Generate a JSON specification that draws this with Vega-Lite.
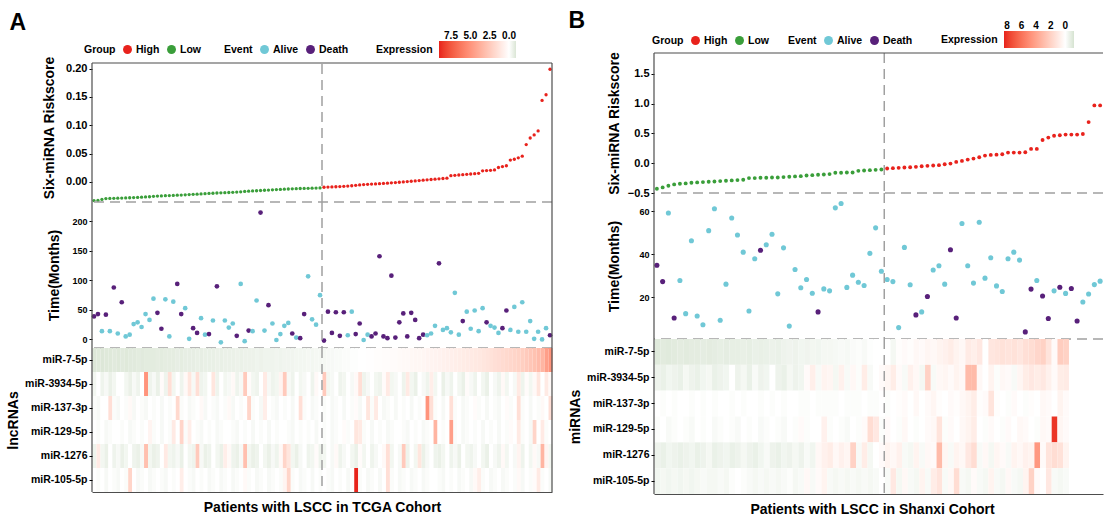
{
"$schema":"https://vega.github.io/schema/vega-lite/v6.json",
"background":"white",
"padding":{"left":6,"top":10,"right":0,"bottom":0},
"config":{"font":"Liberation Sans","view":{"stroke":null},
"axis":{"labelFont":"Liberation Sans","labelFontWeight":"bold","labelColor":"#000","titleFont":"Liberation Sans","titleFontWeight":"bold","titleColor":"#000","tickColor":"#000","tickSize":3,"grid":false,"domain":false,"titleFontSize":14,"titlePadding":4,"labelOverlap":false},
"legend":{"labelFont":"Liberation Sans","titleFont":"Liberation Sans","labelFontWeight":"bold","titleFontWeight":"bold","labelColor":"#000","titleColor":"#000","labelFontSize":10.5,"titleFontSize":10.5},
"title":{"font":"Liberation Sans","fontWeight":"bold","fontSize":23,"anchor":"start","color":"#000"}},
"datasets":{
"A":[
{"i":1,"risk":-0.0330,"group":"Low","time":39,"status":"Death","miR-7-5p":-0.85,"miR-3934-5p":-0.3,"miR-137-3p":-0.1,"miR-129-5p":0,"miR-1276":-0.4,"miR-105-5p":0},
{"i":2,"risk":-0.0328,"group":"Low","time":43,"status":"Death","miR-7-5p":-0.8,"miR-3934-5p":0,"miR-137-3p":-0.2,"miR-129-5p":-0.1,"miR-1276":1.0,"miR-105-5p":-0.1},
{"i":3,"risk":-0.0310,"group":"Low","time":14,"status":"Alive","miR-7-5p":-0.85,"miR-3934-5p":-0.4,"miR-137-3p":0,"miR-129-5p":0,"miR-1276":-0.3,"miR-105-5p":0},
{"i":4,"risk":-0.0295,"group":"Low","time":42,"status":"Death","miR-7-5p":-0.8,"miR-3934-5p":-0.2,"miR-137-3p":0,"miR-129-5p":-0.2,"miR-1276":-0.5,"miR-105-5p":-0.2},
{"i":5,"risk":-0.0292,"group":"Low","time":14,"status":"Alive","miR-7-5p":-0.8,"miR-3934-5p":-0.5,"miR-137-3p":1.5,"miR-129-5p":-0.1,"miR-1276":0,"miR-105-5p":0},
{"i":6,"risk":-0.0290,"group":"Low","time":88,"status":"Death","miR-7-5p":-0.75,"miR-3934-5p":-0.3,"miR-137-3p":-0.1,"miR-129-5p":0,"miR-1276":-0.4,"miR-105-5p":-0.1},
{"i":7,"risk":-0.0288,"group":"Low","time":10,"status":"Alive","miR-7-5p":-0.8,"miR-3934-5p":0,"miR-137-3p":-0.2,"miR-129-5p":0,"miR-1276":-0.2,"miR-105-5p":-0.2},
{"i":8,"risk":-0.0286,"group":"Low","time":63,"status":"Death","miR-7-5p":-0.75,"miR-3934-5p":0,"miR-137-3p":0,"miR-129-5p":-0.1,"miR-1276":-0.5,"miR-105-5p":0},
{"i":9,"risk":-0.0283,"group":"Low","time":5,"status":"Alive","miR-7-5p":-0.8,"miR-3934-5p":-0.3,"miR-137-3p":-0.1,"miR-129-5p":0,"miR-1276":-0.3,"miR-105-5p":-0.1},
{"i":10,"risk":-0.0280,"group":"Low","time":8,"status":"Alive","miR-7-5p":-0.75,"miR-3934-5p":-0.5,"miR-137-3p":0.3,"miR-129-5p":-0.2,"miR-1276":0,"miR-105-5p":2.0},
{"i":11,"risk":-0.0277,"group":"Low","time":26,"status":"Alive","miR-7-5p":-0.75,"miR-3934-5p":-0.2,"miR-137-3p":-0.2,"miR-129-5p":-0.1,"miR-1276":-0.4,"miR-105-5p":0},
{"i":12,"risk":-0.0274,"group":"Low","time":29,"status":"Alive","miR-7-5p":-0.7,"miR-3934-5p":-0.4,"miR-137-3p":0,"miR-129-5p":0,"miR-1276":-0.5,"miR-105-5p":-0.2},
{"i":13,"risk":-0.0270,"group":"Low","time":21,"status":"Alive","miR-7-5p":-0.75,"miR-3934-5p":0,"miR-137-3p":-0.1,"miR-129-5p":-0.1,"miR-1276":-0.2,"miR-105-5p":-0.1},
{"i":14,"risk":-0.0266,"group":"Low","time":43,"status":"Alive","miR-7-5p":-0.7,"miR-3934-5p":5.0,"miR-137-3p":-0.2,"miR-129-5p":0,"miR-1276":3.0,"miR-105-5p":0},
{"i":15,"risk":-0.0262,"group":"Low","time":33,"status":"Alive","miR-7-5p":-0.7,"miR-3934-5p":-0.4,"miR-137-3p":0,"miR-129-5p":0.5,"miR-1276":-0.3,"miR-105-5p":-0.2},
{"i":16,"risk":-0.0255,"group":"Low","time":69,"status":"Alive","miR-7-5p":-0.7,"miR-3934-5p":-0.2,"miR-137-3p":-0.1,"miR-129-5p":-0.1,"miR-1276":-0.5,"miR-105-5p":-0.1},
{"i":17,"risk":-0.0250,"group":"Low","time":45,"status":"Death","miR-7-5p":-0.65,"miR-3934-5p":-0.5,"miR-137-3p":0,"miR-129-5p":0,"miR-1276":-0.4,"miR-105-5p":0},
{"i":18,"risk":-0.0247,"group":"Low","time":18,"status":"Death","miR-7-5p":-0.7,"miR-3934-5p":0.2,"miR-137-3p":-0.2,"miR-129-5p":-0.2,"miR-1276":0,"miR-105-5p":-0.1},
{"i":19,"risk":-0.0244,"group":"Low","time":68,"status":"Alive","miR-7-5p":-0.65,"miR-3934-5p":-0.4,"miR-137-3p":0,"miR-129-5p":0,"miR-1276":1.0,"miR-105-5p":-0.2},
{"i":20,"risk":-0.0241,"group":"Low","time":5,"status":"Alive","miR-7-5p":-0.65,"miR-3934-5p":1.5,"miR-137-3p":-0.1,"miR-129-5p":-0.1,"miR-1276":-0.3,"miR-105-5p":0},
{"i":21,"risk":-0.0238,"group":"Low","time":64,"status":"Alive","miR-7-5p":-0.65,"miR-3934-5p":-0.3,"miR-137-3p":0,"miR-129-5p":1.0,"miR-1276":-0.4,"miR-105-5p":-0.1},
{"i":22,"risk":-0.0235,"group":"Low","time":94,"status":"Death","miR-7-5p":-0.6,"miR-3934-5p":0,"miR-137-3p":1.8,"miR-129-5p":0,"miR-1276":-0.2,"miR-105-5p":0},
{"i":23,"risk":-0.0232,"group":"Low","time":43,"status":"Death","miR-7-5p":-0.65,"miR-3934-5p":-0.4,"miR-137-3p":-0.1,"miR-129-5p":2.0,"miR-1276":-0.5,"miR-105-5p":0.8},
{"i":24,"risk":-0.0228,"group":"Low","time":53,"status":"Alive","miR-7-5p":-0.6,"miR-3934-5p":0.3,"miR-137-3p":0,"miR-129-5p":-0.1,"miR-1276":0,"miR-105-5p":0},
{"i":25,"risk":-0.0224,"group":"Low","time":1,"status":"Alive","miR-7-5p":-0.6,"miR-3934-5p":1.2,"miR-137-3p":-0.2,"miR-129-5p":0.8,"miR-1276":-0.3,"miR-105-5p":-0.1},
{"i":26,"risk":-0.0220,"group":"Low","time":19,"status":"Death","miR-7-5p":-0.6,"miR-3934-5p":-0.2,"miR-137-3p":-0.1,"miR-129-5p":0,"miR-1276":-0.4,"miR-105-5p":-0.2},
{"i":27,"risk":-0.0216,"group":"Low","time":11,"status":"Death","miR-7-5p":-0.55,"miR-3934-5p":1.5,"miR-137-3p":0,"miR-129-5p":-0.1,"miR-1276":2.5,"miR-105-5p":0},
{"i":28,"risk":-0.0212,"group":"Low","time":36,"status":"Alive","miR-7-5p":-0.6,"miR-3934-5p":-0.4,"miR-137-3p":0.3,"miR-129-5p":-0.2,"miR-1276":-0.2,"miR-105-5p":-0.1},
{"i":29,"risk":-0.0208,"group":"Low","time":8,"status":"Alive","miR-7-5p":-0.55,"miR-3934-5p":-0.3,"miR-137-3p":-0.2,"miR-129-5p":0,"miR-1276":-0.5,"miR-105-5p":0},
{"i":30,"risk":-0.0204,"group":"Low","time":9,"status":"Death","miR-7-5p":-0.55,"miR-3934-5p":0,"miR-137-3p":0,"miR-129-5p":-0.1,"miR-1276":-0.4,"miR-105-5p":-0.2},
{"i":31,"risk":-0.0200,"group":"Low","time":32,"status":"Alive","miR-7-5p":-0.55,"miR-3934-5p":1.2,"miR-137-3p":-0.1,"miR-129-5p":0,"miR-1276":0,"miR-105-5p":-0.1},
{"i":32,"risk":-0.0196,"group":"Low","time":90,"status":"Death","miR-7-5p":-0.5,"miR-3934-5p":-0.4,"miR-137-3p":-0.2,"miR-129-5p":-0.2,"miR-1276":-0.3,"miR-105-5p":0},
{"i":33,"risk":-0.0193,"group":"Low","time":-5,"status":"Alive","miR-7-5p":-0.55,"miR-3934-5p":0,"miR-137-3p":0,"miR-129-5p":-0.1,"miR-1276":-0.5,"miR-105-5p":-0.2},
{"i":34,"risk":-0.0190,"group":"Low","time":32,"status":"Alive","miR-7-5p":-0.5,"miR-3934-5p":-0.3,"miR-137-3p":-0.1,"miR-129-5p":0,"miR-1276":0.8,"miR-105-5p":-0.1},
{"i":35,"risk":-0.0187,"group":"Low","time":20,"status":"Alive","miR-7-5p":-0.5,"miR-3934-5p":-0.2,"miR-137-3p":0.3,"miR-129-5p":0,"miR-1276":0.3,"miR-105-5p":0},
{"i":36,"risk":-0.0184,"group":"Low","time":27,"status":"Alive","miR-7-5p":-0.5,"miR-3934-5p":0.3,"miR-137-3p":-0.2,"miR-129-5p":-0.1,"miR-1276":-0.4,"miR-105-5p":-0.2},
{"i":37,"risk":-0.0180,"group":"Low","time":6,"status":"Death","miR-7-5p":-0.45,"miR-3934-5p":-0.4,"miR-137-3p":0,"miR-129-5p":-0.2,"miR-1276":-0.5,"miR-105-5p":-0.1},
{"i":38,"risk":-0.0175,"group":"Low","time":94,"status":"Alive","miR-7-5p":-0.5,"miR-3934-5p":-0.2,"miR-137-3p":-0.1,"miR-129-5p":0,"miR-1276":-0.2,"miR-105-5p":0},
{"i":39,"risk":-0.0168,"group":"Low","time":-3,"status":"Alive","miR-7-5p":-0.45,"miR-3934-5p":2.5,"miR-137-3p":0,"miR-129-5p":-0.1,"miR-1276":3.0,"miR-105-5p":0.3},
{"i":40,"risk":-0.0164,"group":"Low","time":15,"status":"Death","miR-7-5p":-0.45,"miR-3934-5p":0.2,"miR-137-3p":2.0,"miR-129-5p":0,"miR-1276":-0.3,"miR-105-5p":-0.1},
{"i":41,"risk":-0.0160,"group":"Low","time":14,"status":"Alive","miR-7-5p":-0.45,"miR-3934-5p":-0.3,"miR-137-3p":-0.1,"miR-129-5p":-0.2,"miR-1276":-0.5,"miR-105-5p":0},
{"i":42,"risk":-0.0156,"group":"Low","time":66,"status":"Alive","miR-7-5p":-0.4,"miR-3934-5p":-0.4,"miR-137-3p":0,"miR-129-5p":0,"miR-1276":-0.4,"miR-105-5p":-0.2},
{"i":43,"risk":-0.0152,"group":"Low","time":215,"status":"Death","miR-7-5p":-0.45,"miR-3934-5p":0,"miR-137-3p":-0.2,"miR-129-5p":-0.1,"miR-1276":0,"miR-105-5p":-0.1},
{"i":44,"risk":-0.0148,"group":"Low","time":15,"status":"Alive","miR-7-5p":-0.4,"miR-3934-5p":1.0,"miR-137-3p":0.8,"miR-129-5p":0,"miR-1276":-0.3,"miR-105-5p":0},
{"i":45,"risk":-0.0144,"group":"Low","time":58,"status":"Death","miR-7-5p":-0.4,"miR-3934-5p":-0.2,"miR-137-3p":0,"miR-129-5p":-0.2,"miR-1276":-0.5,"miR-105-5p":-0.2},
{"i":46,"risk":-0.0140,"group":"Low","time":27,"status":"Alive","miR-7-5p":-0.4,"miR-3934-5p":-0.4,"miR-137-3p":-0.1,"miR-129-5p":0,"miR-1276":-0.2,"miR-105-5p":-0.1},
{"i":47,"risk":-0.0136,"group":"Low","time":-1,"status":"Alive","miR-7-5p":-0.35,"miR-3934-5p":-0.3,"miR-137-3p":-0.2,"miR-129-5p":-0.1,"miR-1276":-0.4,"miR-105-5p":0},
{"i":48,"risk":-0.0132,"group":"Low","time":9,"status":"Alive","miR-7-5p":-0.4,"miR-3934-5p":0.5,"miR-137-3p":0,"miR-129-5p":0,"miR-1276":0.3,"miR-105-5p":-0.1},
{"i":49,"risk":-0.0128,"group":"Low","time":23,"status":"Alive","miR-7-5p":-0.35,"miR-3934-5p":2.5,"miR-137-3p":-0.1,"miR-129-5p":0,"miR-1276":2.0,"miR-105-5p":0.5},
{"i":50,"risk":-0.0125,"group":"Low","time":28,"status":"Alive","miR-7-5p":-0.35,"miR-3934-5p":-0.2,"miR-137-3p":0,"miR-129-5p":-0.1,"miR-1276":1.2,"miR-105-5p":2.0},
{"i":51,"risk":-0.0122,"group":"Low","time":10,"status":"Death","miR-7-5p":-0.35,"miR-3934-5p":-0.4,"miR-137-3p":-0.2,"miR-129-5p":-0.2,"miR-1276":-0.3,"miR-105-5p":-0.1},
{"i":52,"risk":-0.0119,"group":"Low","time":3,"status":"Alive","miR-7-5p":-0.3,"miR-3934-5p":0,"miR-137-3p":0,"miR-129-5p":0,"miR-1276":-0.5,"miR-105-5p":0},
{"i":53,"risk":-0.0117,"group":"Low","time":2,"status":"Death","miR-7-5p":-0.3,"miR-3934-5p":-0.3,"miR-137-3p":1.5,"miR-129-5p":-0.1,"miR-1276":-0.2,"miR-105-5p":-0.2},
{"i":54,"risk":-0.0115,"group":"Low","time":43,"status":"Death","miR-7-5p":-0.3,"miR-3934-5p":-0.2,"miR-137-3p":-0.1,"miR-129-5p":0,"miR-1276":0,"miR-105-5p":-0.1},
{"i":55,"risk":-0.0113,"group":"Low","time":107,"status":"Alive","miR-7-5p":-0.25,"miR-3934-5p":0,"miR-137-3p":0,"miR-129-5p":-0.1,"miR-1276":-0.4,"miR-105-5p":0},
{"i":56,"risk":-0.0111,"group":"Low","time":34,"status":"Alive","miR-7-5p":-0.3,"miR-3934-5p":-0.4,"miR-137-3p":-0.2,"miR-129-5p":0,"miR-1276":-0.3,"miR-105-5p":-0.2},
{"i":57,"risk":-0.0109,"group":"Low","time":25,"status":"Alive","miR-7-5p":-0.25,"miR-3934-5p":0.3,"miR-137-3p":-0.1,"miR-129-5p":-0.2,"miR-1276":0.2,"miR-105-5p":0},
{"i":58,"risk":-0.0107,"group":"Low","time":75,"status":"Alive","miR-7-5p":-0.25,"miR-3934-5p":0,"miR-137-3p":0,"miR-129-5p":0,"miR-1276":-0.4,"miR-105-5p":-0.1},
{"i":59,"risk":-0.0095,"group":"High","time":-2,"status":"Death","miR-7-5p":-0.25,"miR-3934-5p":2.5,"miR-137-3p":-0.1,"miR-129-5p":-0.1,"miR-1276":-0.3,"miR-105-5p":0},
{"i":60,"risk":-0.0092,"group":"High","time":47,"status":"Death","miR-7-5p":-0.2,"miR-3934-5p":-0.3,"miR-137-3p":0,"miR-129-5p":0,"miR-1276":0,"miR-105-5p":-0.1},
{"i":61,"risk":-0.0089,"group":"High","time":11,"status":"Death","miR-7-5p":-0.2,"miR-3934-5p":-0.2,"miR-137-3p":-0.2,"miR-129-5p":-0.2,"miR-1276":-0.2,"miR-105-5p":-0.2},
{"i":62,"risk":-0.0086,"group":"High","time":46,"status":"Death","miR-7-5p":-0.15,"miR-3934-5p":0,"miR-137-3p":-0.1,"miR-129-5p":-0.1,"miR-1276":0.3,"miR-105-5p":0},
{"i":63,"risk":-0.0082,"group":"High","time":6,"status":"Death","miR-7-5p":-0.15,"miR-3934-5p":-0.4,"miR-137-3p":0,"miR-129-5p":0,"miR-1276":-0.4,"miR-105-5p":-0.1},
{"i":64,"risk":-0.0078,"group":"High","time":46,"status":"Death","miR-7-5p":-0.1,"miR-3934-5p":-0.3,"miR-137-3p":-0.2,"miR-129-5p":0.2,"miR-1276":-0.2,"miR-105-5p":0},
{"i":65,"risk":-0.0074,"group":"High","time":7,"status":"Alive","miR-7-5p":-0.1,"miR-3934-5p":0,"miR-137-3p":0,"miR-129-5p":-0.1,"miR-1276":0,"miR-105-5p":-0.2},
{"i":66,"risk":-0.0068,"group":"High","time":47,"status":"Alive","miR-7-5p":-0.05,"miR-3934-5p":-0.2,"miR-137-3p":-0.1,"miR-129-5p":0,"miR-1276":-0.3,"miR-105-5p":0},
{"i":67,"risk":-0.0060,"group":"High","time":9,"status":"Death","miR-7-5p":-0.05,"miR-3934-5p":0.3,"miR-137-3p":0.2,"miR-129-5p":1.2,"miR-1276":-0.5,"miR-105-5p":9.0},
{"i":68,"risk":-0.0053,"group":"High","time":27,"status":"Death","miR-7-5p":0,"miR-3934-5p":1.5,"miR-137-3p":-0.2,"miR-129-5p":1.0,"miR-1276":0.2,"miR-105-5p":-0.1},
{"i":69,"risk":-0.0047,"group":"High","time":-1,"status":"Alive","miR-7-5p":0,"miR-3934-5p":-0.4,"miR-137-3p":0,"miR-129-5p":-0.1,"miR-1276":-0.3,"miR-105-5p":0},
{"i":70,"risk":-0.0043,"group":"High","time":8,"status":"Alive","miR-7-5p":0.05,"miR-3934-5p":-0.2,"miR-137-3p":1.2,"miR-129-5p":0,"miR-1276":0,"miR-105-5p":-0.2},
{"i":71,"risk":-0.0039,"group":"High","time":5,"status":"Death","miR-7-5p":0.05,"miR-3934-5p":0,"miR-137-3p":-0.1,"miR-129-5p":-0.2,"miR-1276":-0.4,"miR-105-5p":-0.1},
{"i":72,"risk":-0.0035,"group":"High","time":10,"status":"Death","miR-7-5p":0.1,"miR-3934-5p":-0.3,"miR-137-3p":1.0,"miR-129-5p":0,"miR-1276":-0.2,"miR-105-5p":0},
{"i":73,"risk":-0.0031,"group":"High","time":141,"status":"Death","miR-7-5p":0.1,"miR-3934-5p":-0.4,"miR-137-3p":0,"miR-129-5p":-0.1,"miR-1276":0,"miR-105-5p":-0.2},
{"i":74,"risk":-0.0027,"group":"High","time":5,"status":"Death","miR-7-5p":0.15,"miR-3934-5p":0.2,"miR-137-3p":-0.2,"miR-129-5p":0,"miR-1276":0.3,"miR-105-5p":0},
{"i":75,"risk":-0.0022,"group":"High","time":2,"status":"Death","miR-7-5p":0.15,"miR-3934-5p":1.0,"miR-137-3p":-0.1,"miR-129-5p":-0.2,"miR-1276":1.5,"miR-105-5p":1.5},
{"i":76,"risk":-0.0017,"group":"High","time":108,"status":"Death","miR-7-5p":0.2,"miR-3934-5p":-0.3,"miR-137-3p":0,"miR-129-5p":-0.1,"miR-1276":-0.3,"miR-105-5p":-0.1},
{"i":77,"risk":-0.0012,"group":"High","time":3,"status":"Death","miR-7-5p":0.2,"miR-3934-5p":-0.2,"miR-137-3p":-0.2,"miR-129-5p":0,"miR-1276":0,"miR-105-5p":0},
{"i":78,"risk":-0.0006,"group":"High","time":29,"status":"Death","miR-7-5p":0.25,"miR-3934-5p":0,"miR-137-3p":0,"miR-129-5p":0,"miR-1276":-0.2,"miR-105-5p":-0.2},
{"i":79,"risk":0.0000,"group":"High","time":44,"status":"Death","miR-7-5p":0.3,"miR-3934-5p":-0.4,"miR-137-3p":-0.1,"miR-129-5p":-0.1,"miR-1276":2.5,"miR-105-5p":-0.1},
{"i":80,"risk":0.0006,"group":"High","time":5,"status":"Death","miR-7-5p":0.3,"miR-3934-5p":1.0,"miR-137-3p":0,"miR-129-5p":-0.2,"miR-1276":-0.4,"miR-105-5p":0},
{"i":81,"risk":0.0012,"group":"High","time":45,"status":"Death","miR-7-5p":0.35,"miR-3934-5p":-0.3,"miR-137-3p":-0.2,"miR-129-5p":0,"miR-1276":0,"miR-105-5p":-0.2},
{"i":82,"risk":0.0018,"group":"High","time":33,"status":"Death","miR-7-5p":0.4,"miR-3934-5p":-0.5,"miR-137-3p":0,"miR-129-5p":-0.1,"miR-1276":-0.3,"miR-105-5p":-0.1},
{"i":83,"risk":0.0024,"group":"High","time":2,"status":"Death","miR-7-5p":0.4,"miR-3934-5p":0,"miR-137-3p":-0.1,"miR-129-5p":0,"miR-1276":1.2,"miR-105-5p":0},
{"i":84,"risk":0.0030,"group":"High","time":8,"status":"Death","miR-7-5p":0.45,"miR-3934-5p":-0.2,"miR-137-3p":0,"miR-129-5p":-0.2,"miR-1276":-0.5,"miR-105-5p":-0.2},
{"i":85,"risk":0.0036,"group":"High","time":7,"status":"Alive","miR-7-5p":0.5,"miR-3934-5p":-0.4,"miR-137-3p":5.0,"miR-129-5p":-0.1,"miR-1276":-0.2,"miR-105-5p":-0.1},
{"i":86,"risk":0.0042,"group":"High","time":10,"status":"Alive","miR-7-5p":0.5,"miR-3934-5p":0.8,"miR-137-3p":1.5,"miR-129-5p":0,"miR-1276":0,"miR-105-5p":0},
{"i":87,"risk":0.0048,"group":"High","time":23,"status":"Alive","miR-7-5p":0.55,"miR-3934-5p":-0.3,"miR-137-3p":-0.1,"miR-129-5p":3.5,"miR-1276":-0.4,"miR-105-5p":0},
{"i":88,"risk":0.0054,"group":"High","time":129,"status":"Death","miR-7-5p":0.6,"miR-3934-5p":0,"miR-137-3p":0,"miR-129-5p":0,"miR-1276":-0.5,"miR-105-5p":-0.1},
{"i":89,"risk":0.0060,"group":"High","time":16,"status":"Alive","miR-7-5p":0.65,"miR-3934-5p":-0.5,"miR-137-3p":-0.2,"miR-129-5p":-0.1,"miR-1276":-0.3,"miR-105-5p":-0.2},
{"i":90,"risk":0.0066,"group":"High","time":19,"status":"Alive","miR-7-5p":0.7,"miR-3934-5p":-0.2,"miR-137-3p":0,"miR-129-5p":0,"miR-1276":0,"miR-105-5p":0},
{"i":91,"risk":0.0110,"group":"High","time":12,"status":"Alive","miR-7-5p":0.75,"miR-3934-5p":-0.4,"miR-137-3p":1.5,"miR-129-5p":4.5,"miR-1276":-0.4,"miR-105-5p":-0.1},
{"i":92,"risk":0.0116,"group":"High","time":79,"status":"Alive","miR-7-5p":0.8,"miR-3934-5p":0,"miR-137-3p":-0.1,"miR-129-5p":-0.1,"miR-1276":-0.2,"miR-105-5p":0},
{"i":93,"risk":0.0122,"group":"High","time":8,"status":"Alive","miR-7-5p":0.85,"miR-3934-5p":-0.3,"miR-137-3p":0,"miR-129-5p":0,"miR-1276":-0.5,"miR-105-5p":-0.2},
{"i":94,"risk":0.0128,"group":"High","time":31,"status":"Death","miR-7-5p":0.9,"miR-3934-5p":-0.5,"miR-137-3p":-0.2,"miR-129-5p":-0.2,"miR-1276":0,"miR-105-5p":-0.1},
{"i":95,"risk":0.0134,"group":"High","time":47,"status":"Alive","miR-7-5p":0.95,"miR-3934-5p":0.2,"miR-137-3p":-0.1,"miR-129-5p":-0.1,"miR-1276":-0.3,"miR-105-5p":0},
{"i":96,"risk":0.0140,"group":"High","time":18,"status":"Alive","miR-7-5p":1.0,"miR-3934-5p":-0.2,"miR-137-3p":0,"miR-129-5p":0,"miR-1276":-0.4,"miR-105-5p":-0.2},
{"i":97,"risk":0.0146,"group":"High","time":49,"status":"Alive","miR-7-5p":1.05,"miR-3934-5p":-0.4,"miR-137-3p":0.2,"miR-129-5p":-0.1,"miR-1276":-0.2,"miR-105-5p":0.3},
{"i":98,"risk":0.0152,"group":"High","time":14,"status":"Alive","miR-7-5p":1.1,"miR-3934-5p":0,"miR-137-3p":-0.1,"miR-129-5p":0,"miR-1276":0,"miR-105-5p":0.8},
{"i":99,"risk":0.0195,"group":"High","time":53,"status":"Alive","miR-7-5p":1.2,"miR-3934-5p":-0.3,"miR-137-3p":0,"miR-129-5p":-0.2,"miR-1276":-0.3,"miR-105-5p":-0.1},
{"i":100,"risk":0.0200,"group":"High","time":29,"status":"Death","miR-7-5p":1.3,"miR-3934-5p":-0.5,"miR-137-3p":-0.2,"miR-129-5p":0,"miR-1276":-0.5,"miR-105-5p":0},
{"i":101,"risk":0.0205,"group":"High","time":23,"status":"Alive","miR-7-5p":1.4,"miR-3934-5p":0,"miR-137-3p":0,"miR-129-5p":-0.1,"miR-1276":0,"miR-105-5p":-0.2},
{"i":102,"risk":0.0212,"group":"High","time":20,"status":"Alive","miR-7-5p":1.5,"miR-3934-5p":-0.2,"miR-137-3p":-0.1,"miR-129-5p":0,"miR-1276":-0.2,"miR-105-5p":-0.1},
{"i":103,"risk":0.0255,"group":"High","time":11,"status":"Alive","miR-7-5p":1.6,"miR-3934-5p":-0.4,"miR-137-3p":-0.2,"miR-129-5p":-0.2,"miR-1276":-0.4,"miR-105-5p":0},
{"i":104,"risk":0.0270,"group":"High","time":19,"status":"Death","miR-7-5p":1.7,"miR-3934-5p":0.3,"miR-137-3p":0,"miR-129-5p":0,"miR-1276":0.3,"miR-105-5p":-0.2},
{"i":105,"risk":0.0285,"group":"High","time":49,"status":"Death","miR-7-5p":1.8,"miR-3934-5p":-0.3,"miR-137-3p":0.2,"miR-129-5p":-0.1,"miR-1276":-0.3,"miR-105-5p":-0.1},
{"i":106,"risk":0.0385,"group":"High","time":16,"status":"Alive","miR-7-5p":1.9,"miR-3934-5p":0,"miR-137-3p":-0.1,"miR-129-5p":0.2,"miR-1276":0,"miR-105-5p":0},
{"i":107,"risk":0.0400,"group":"High","time":55,"status":"Alive","miR-7-5p":2.0,"miR-3934-5p":-0.2,"miR-137-3p":0,"miR-129-5p":0,"miR-1276":-0.2,"miR-105-5p":-0.1},
{"i":108,"risk":0.0425,"group":"High","time":13,"status":"Alive","miR-7-5p":2.1,"miR-3934-5p":1.0,"miR-137-3p":1.5,"miR-129-5p":1.0,"miR-1276":0.5,"miR-105-5p":0.3},
{"i":109,"risk":0.0455,"group":"High","time":63,"status":"Alive","miR-7-5p":2.3,"miR-3934-5p":-0.4,"miR-137-3p":-0.1,"miR-129-5p":-0.1,"miR-1276":-0.4,"miR-105-5p":-0.2},
{"i":110,"risk":0.0660,"group":"High","time":13,"status":"Alive","miR-7-5p":2.5,"miR-3934-5p":0.2,"miR-137-3p":0,"miR-129-5p":0,"miR-1276":0,"miR-105-5p":0},
{"i":111,"risk":0.0775,"group":"High","time":31,"status":"Alive","miR-7-5p":2.7,"miR-3934-5p":-0.3,"miR-137-3p":-0.2,"miR-129-5p":-0.2,"miR-1276":-0.3,"miR-105-5p":-0.1},
{"i":112,"risk":0.0830,"group":"High","time":1,"status":"Alive","miR-7-5p":2.9,"miR-3934-5p":0.3,"miR-137-3p":0,"miR-129-5p":2.0,"miR-1276":0.3,"miR-105-5p":0.2},
{"i":113,"risk":0.0900,"group":"High","time":13,"status":"Alive","miR-7-5p":3.2,"miR-3934-5p":1.2,"miR-137-3p":-0.1,"miR-129-5p":0,"miR-1276":-0.2,"miR-105-5p":1.0},
{"i":114,"risk":0.1440,"group":"High","time":0,"status":"Alive","miR-7-5p":3.5,"miR-3934-5p":0,"miR-137-3p":0.3,"miR-129-5p":1.0,"miR-1276":3.5,"miR-105-5p":-0.1},
{"i":115,"risk":0.1540,"group":"High","time":19,"status":"Alive","miR-7-5p":4.5,"miR-3934-5p":1.0,"miR-137-3p":0,"miR-129-5p":-0.1,"miR-1276":0.5,"miR-105-5p":0},
{"i":116,"risk":0.1990,"group":"High","time":7,"status":"Death","miR-7-5p":5.0,"miR-3934-5p":0.3,"miR-137-3p":1.5,"miR-129-5p":0,"miR-1276":-0.3,"miR-105-5p":-0.2}
],
"B":[
{"i":1,"risk":-0.428,"group":"Low","time":34.8,"status":"Death","miR-7-5p":-0.9,"miR-3934-5p":-0.5,"miR-137-3p":0,"miR-129-5p":-0.1,"miR-1276":-0.5,"miR-105-5p":-0.4},
{"i":2,"risk":-0.406,"group":"Low","time":27.2,"status":"Death","miR-7-5p":-0.85,"miR-3934-5p":-0.6,"miR-137-3p":-0.1,"miR-129-5p":0,"miR-1276":-0.6,"miR-105-5p":-0.3},
{"i":3,"risk":-0.378,"group":"Low","time":59.1,"status":"Alive","miR-7-5p":-0.9,"miR-3934-5p":-0.4,"miR-137-3p":0,"miR-129-5p":-0.2,"miR-1276":-0.4,"miR-105-5p":-0.4},
{"i":4,"risk":-0.356,"group":"Low","time":10.3,"status":"Death","miR-7-5p":-0.85,"miR-3934-5p":-0.5,"miR-137-3p":-0.1,"miR-129-5p":-0.1,"miR-1276":-0.5,"miR-105-5p":-0.3},
{"i":5,"risk":-0.344,"group":"Low","time":27.7,"status":"Alive","miR-7-5p":-0.8,"miR-3934-5p":-0.6,"miR-137-3p":0,"miR-129-5p":0,"miR-1276":-0.6,"miR-105-5p":-0.4},
{"i":6,"risk":-0.339,"group":"Low","time":12.3,"status":"Alive","miR-7-5p":-0.85,"miR-3934-5p":-0.3,"miR-137-3p":0,"miR-129-5p":-0.1,"miR-1276":-0.5,"miR-105-5p":-0.3},
{"i":7,"risk":-0.328,"group":"Low","time":46.2,"status":"Alive","miR-7-5p":-0.8,"miR-3934-5p":-0.5,"miR-137-3p":-0.1,"miR-129-5p":-0.2,"miR-1276":-0.4,"miR-105-5p":-0.4},
{"i":8,"risk":-0.322,"group":"Low","time":11.2,"status":"Alive","miR-7-5p":-0.8,"miR-3934-5p":-0.6,"miR-137-3p":0,"miR-129-5p":0,"miR-1276":-0.6,"miR-105-5p":-0.3},
{"i":9,"risk":-0.317,"group":"Low","time":7.1,"status":"Alive","miR-7-5p":-0.75,"miR-3934-5p":-0.4,"miR-137-3p":-0.1,"miR-129-5p":-0.1,"miR-1276":-0.5,"miR-105-5p":-0.2},
{"i":10,"risk":-0.311,"group":"Low","time":50.9,"status":"Alive","miR-7-5p":-0.8,"miR-3934-5p":-0.3,"miR-137-3p":0,"miR-129-5p":0,"miR-1276":-0.3,"miR-105-5p":-0.3},
{"i":11,"risk":-0.306,"group":"Low","time":61.1,"status":"Alive","miR-7-5p":-0.75,"miR-3934-5p":-0.6,"miR-137-3p":-0.1,"miR-129-5p":-0.2,"miR-1276":-0.6,"miR-105-5p":-0.3},
{"i":12,"risk":-0.300,"group":"Low","time":9.2,"status":"Alive","miR-7-5p":-0.7,"miR-3934-5p":-0.5,"miR-137-3p":0,"miR-129-5p":-0.1,"miR-1276":-0.5,"miR-105-5p":-0.2},
{"i":13,"risk":-0.294,"group":"Low","time":26.0,"status":"Alive","miR-7-5p":-0.75,"miR-3934-5p":-0.4,"miR-137-3p":0,"miR-129-5p":0,"miR-1276":-0.4,"miR-105-5p":-0.3},
{"i":14,"risk":-0.289,"group":"Low","time":56.8,"status":"Alive","miR-7-5p":-0.7,"miR-3934-5p":0,"miR-137-3p":-0.1,"miR-129-5p":-0.1,"miR-1276":-0.6,"miR-105-5p":-0.1},
{"i":15,"risk":-0.283,"group":"Low","time":48.9,"status":"Alive","miR-7-5p":-0.7,"miR-3934-5p":-0.5,"miR-137-3p":0,"miR-129-5p":-0.2,"miR-1276":-0.5,"miR-105-5p":0},
{"i":16,"risk":-0.278,"group":"Low","time":40.9,"status":"Alive","miR-7-5p":-0.65,"miR-3934-5p":-0.3,"miR-137-3p":-0.1,"miR-129-5p":0,"miR-1276":-0.3,"miR-105-5p":-0.1},
{"i":17,"risk":-0.250,"group":"Low","time":13.5,"status":"Alive","miR-7-5p":-0.7,"miR-3934-5p":-0.6,"miR-137-3p":0,"miR-129-5p":-0.1,"miR-1276":-0.5,"miR-105-5p":-0.2},
{"i":18,"risk":-0.250,"group":"Low","time":37.8,"status":"Alive","miR-7-5p":-0.6,"miR-3934-5p":-0.2,"miR-137-3p":0,"miR-129-5p":0,"miR-1276":-0.6,"miR-105-5p":-0.3},
{"i":19,"risk":-0.244,"group":"Low","time":41.8,"status":"Death","miR-7-5p":-0.65,"miR-3934-5p":-0.5,"miR-137-3p":-0.1,"miR-129-5p":-0.2,"miR-1276":-0.4,"miR-105-5p":-0.2},
{"i":20,"risk":-0.244,"group":"Low","time":44.3,"status":"Alive","miR-7-5p":-0.6,"miR-3934-5p":-0.4,"miR-137-3p":0,"miR-129-5p":-0.1,"miR-1276":-0.2,"miR-105-5p":-0.3},
{"i":21,"risk":-0.239,"group":"Low","time":49.2,"status":"Alive","miR-7-5p":-0.55,"miR-3934-5p":0,"miR-137-3p":-0.1,"miR-129-5p":0,"miR-1276":-0.5,"miR-105-5p":-0.2},
{"i":22,"risk":-0.239,"group":"Low","time":21.5,"status":"Alive","miR-7-5p":-0.6,"miR-3934-5p":-0.5,"miR-137-3p":0,"miR-129-5p":-0.1,"miR-1276":-0.6,"miR-105-5p":-0.3},
{"i":23,"risk":-0.233,"group":"Low","time":42.9,"status":"Alive","miR-7-5p":-0.5,"miR-3934-5p":-0.6,"miR-137-3p":-0.1,"miR-129-5p":-0.2,"miR-1276":-0.4,"miR-105-5p":-0.2},
{"i":24,"risk":-0.228,"group":"Low","time":6.5,"status":"Alive","miR-7-5p":-0.45,"miR-3934-5p":-0.3,"miR-137-3p":0,"miR-129-5p":0,"miR-1276":-0.5,"miR-105-5p":-0.1},
{"i":25,"risk":-0.222,"group":"Low","time":32.8,"status":"Alive","miR-7-5p":-0.5,"miR-3934-5p":-0.5,"miR-137-3p":0,"miR-129-5p":-0.1,"miR-1276":-0.3,"miR-105-5p":-0.3},
{"i":26,"risk":-0.217,"group":"Low","time":24.3,"status":"Alive","miR-7-5p":-0.4,"miR-3934-5p":-0.4,"miR-137-3p":-0.1,"miR-129-5p":0.2,"miR-1276":-0.5,"miR-105-5p":-0.2},
{"i":27,"risk":-0.206,"group":"Low","time":28.2,"status":"Alive","miR-7-5p":-0.45,"miR-3934-5p":0.2,"miR-137-3p":-0.1,"miR-129-5p":-0.1,"miR-1276":-0.2,"miR-105-5p":0.3},
{"i":28,"risk":-0.200,"group":"Low","time":21.8,"status":"Alive","miR-7-5p":-0.35,"miR-3934-5p":0.7,"miR-137-3p":0,"miR-129-5p":0,"miR-1276":-0.4,"miR-105-5p":-0.2},
{"i":29,"risk":-0.194,"group":"Low","time":13.1,"status":"Death","miR-7-5p":-0.4,"miR-3934-5p":-0.2,"miR-137-3p":-0.1,"miR-129-5p":0,"miR-1276":0.3,"miR-105-5p":0.2},
{"i":30,"risk":-0.189,"group":"Low","time":23.8,"status":"Alive","miR-7-5p":-0.3,"miR-3934-5p":0.5,"miR-137-3p":-0.1,"miR-129-5p":0.6,"miR-1276":0.6,"miR-105-5p":0.5},
{"i":31,"risk":-0.183,"group":"Low","time":22.9,"status":"Alive","miR-7-5p":-0.3,"miR-3934-5p":0.4,"miR-137-3p":-0.1,"miR-129-5p":-0.1,"miR-1276":0.8,"miR-105-5p":-0.2},
{"i":32,"risk":-0.161,"group":"Low","time":61.5,"status":"Alive","miR-7-5p":-0.25,"miR-3934-5p":-0.3,"miR-137-3p":-0.1,"miR-129-5p":0,"miR-1276":0.3,"miR-105-5p":-0.3},
{"i":33,"risk":-0.161,"group":"Low","time":63.5,"status":"Alive","miR-7-5p":-0.2,"miR-3934-5p":0.6,"miR-137-3p":0,"miR-129-5p":-0.1,"miR-1276":0.6,"miR-105-5p":-0.2},
{"i":34,"risk":-0.156,"group":"Low","time":24.5,"status":"Alive","miR-7-5p":-0.25,"miR-3934-5p":-0.2,"miR-137-3p":-0.1,"miR-129-5p":-0.2,"miR-1276":0.4,"miR-105-5p":-0.3},
{"i":35,"risk":-0.156,"group":"Low","time":30.2,"status":"Alive","miR-7-5p":-0.15,"miR-3934-5p":0.3,"miR-137-3p":-0.1,"miR-129-5p":0,"miR-1276":2.0,"miR-105-5p":-0.2},
{"i":36,"risk":-0.128,"group":"Low","time":26.9,"status":"Alive","miR-7-5p":-0.1,"miR-3934-5p":-0.1,"miR-137-3p":-0.1,"miR-129-5p":-0.1,"miR-1276":-0.2,"miR-105-5p":-0.3},
{"i":37,"risk":-0.122,"group":"Low","time":25.4,"status":"Alive","miR-7-5p":-0.2,"miR-3934-5p":0.8,"miR-137-3p":0,"miR-129-5p":0.2,"miR-1276":0.8,"miR-105-5p":-0.2},
{"i":38,"risk":-0.117,"group":"Low","time":40.3,"status":"Alive","miR-7-5p":-0.05,"miR-3934-5p":-0.2,"miR-137-3p":-0.1,"miR-129-5p":1.5,"miR-1276":-0.3,"miR-105-5p":-0.3},
{"i":39,"risk":-0.111,"group":"Low","time":52.2,"status":"Alive","miR-7-5p":0,"miR-3934-5p":0,"miR-137-3p":-0.1,"miR-129-5p":1.0,"miR-1276":0,"miR-105-5p":-0.2},
{"i":40,"risk":-0.106,"group":"Low","time":32.0,"status":"Alive","miR-7-5p":0,"miR-3934-5p":0.2,"miR-137-3p":0,"miR-129-5p":-0.1,"miR-1276":0.2,"miR-105-5p":0},
{"i":41,"risk":-0.089,"group":"High","time":28.2,"status":"Alive","miR-7-5p":0,"miR-3934-5p":0.4,"miR-137-3p":-0.1,"miR-129-5p":0.2,"miR-1276":0.5,"miR-105-5p":-0.2},
{"i":42,"risk":-0.083,"group":"High","time":27.2,"status":"Alive","miR-7-5p":-0.3,"miR-3934-5p":0.8,"miR-137-3p":0,"miR-129-5p":0,"miR-1276":0.3,"miR-105-5p":1.0},
{"i":43,"risk":-0.078,"group":"High","time":5.8,"status":"Alive","miR-7-5p":0.1,"miR-3934-5p":0.2,"miR-137-3p":0.1,"miR-129-5p":-0.1,"miR-1276":0.6,"miR-105-5p":-0.3},
{"i":44,"risk":-0.072,"group":"High","time":43.1,"status":"Alive","miR-7-5p":0.2,"miR-3934-5p":-0.2,"miR-137-3p":0.2,"miR-129-5p":0.3,"miR-1276":-0.2,"miR-105-5p":0.3},
{"i":45,"risk":-0.067,"group":"High","time":25.7,"status":"Alive","miR-7-5p":0.1,"miR-3934-5p":0.6,"miR-137-3p":0,"miR-129-5p":0,"miR-1276":-0.3,"miR-105-5p":-0.2},
{"i":46,"risk":-0.061,"group":"High","time":11.7,"status":"Death","miR-7-5p":0.3,"miR-3934-5p":0.3,"miR-137-3p":0.3,"miR-129-5p":-0.1,"miR-1276":0.5,"miR-105-5p":-0.3},
{"i":47,"risk":-0.050,"group":"High","time":13.1,"status":"Alive","miR-7-5p":0.2,"miR-3934-5p":-0.3,"miR-137-3p":0,"miR-129-5p":0,"miR-1276":-0.2,"miR-105-5p":0.5},
{"i":48,"risk":-0.044,"group":"High","time":20.3,"status":"Death","miR-7-5p":0.4,"miR-3934-5p":2.0,"miR-137-3p":0.2,"miR-129-5p":0.2,"miR-1276":0.3,"miR-105-5p":-0.2},
{"i":49,"risk":-0.039,"group":"High","time":32.6,"status":"Alive","miR-7-5p":0.3,"miR-3934-5p":-0.2,"miR-137-3p":0.4,"miR-129-5p":0.3,"miR-1276":0.2,"miR-105-5p":0.8},
{"i":50,"risk":-0.033,"group":"High","time":34.6,"status":"Alive","miR-7-5p":0.5,"miR-3934-5p":0.3,"miR-137-3p":0.1,"miR-129-5p":1.2,"miR-1276":3.0,"miR-105-5p":1.2},
{"i":51,"risk":-0.017,"group":"High","time":26.0,"status":"Alive","miR-7-5p":0.6,"miR-3934-5p":0.4,"miR-137-3p":0,"miR-129-5p":-0.1,"miR-1276":0.4,"miR-105-5p":-0.2},
{"i":52,"risk":-0.006,"group":"High","time":42.0,"status":"Death","miR-7-5p":0.8,"miR-3934-5p":0.2,"miR-137-3p":0.2,"miR-129-5p":0.2,"miR-1276":-0.2,"miR-105-5p":0.3},
{"i":53,"risk":0.022,"group":"High","time":10.3,"status":"Death","miR-7-5p":0.5,"miR-3934-5p":0.5,"miR-137-3p":0.1,"miR-129-5p":0,"miR-1276":0.5,"miR-105-5p":1.5},
{"i":54,"risk":0.039,"group":"High","time":54.2,"status":"Alive","miR-7-5p":0.3,"miR-3934-5p":0.3,"miR-137-3p":0.3,"miR-129-5p":0.3,"miR-1276":0.3,"miR-105-5p":-0.2},
{"i":55,"risk":0.061,"group":"High","time":34.6,"status":"Alive","miR-7-5p":0.9,"miR-3934-5p":3.0,"miR-137-3p":0.5,"miR-129-5p":0.5,"miR-1276":1.0,"miR-105-5p":-0.3},
{"i":56,"risk":0.078,"group":"High","time":26.5,"status":"Alive","miR-7-5p":0.7,"miR-3934-5p":3.0,"miR-137-3p":0.8,"miR-129-5p":0.8,"miR-1276":1.5,"miR-105-5p":0.2},
{"i":57,"risk":0.100,"group":"High","time":54.8,"status":"Alive","miR-7-5p":1.0,"miR-3934-5p":0.3,"miR-137-3p":0.1,"miR-129-5p":0,"miR-1276":-0.2,"miR-105-5p":-0.2},
{"i":58,"risk":0.128,"group":"High","time":28.8,"status":"Alive","miR-7-5p":0,"miR-3934-5p":0,"miR-137-3p":0.2,"miR-129-5p":-0.1,"miR-1276":0.3,"miR-105-5p":-0.3},
{"i":59,"risk":0.139,"group":"High","time":38.3,"status":"Alive","miR-7-5p":1.1,"miR-3934-5p":0.5,"miR-137-3p":1.2,"miR-129-5p":0.2,"miR-1276":-0.3,"miR-105-5p":0.5},
{"i":60,"risk":0.144,"group":"High","time":25.2,"status":"Alive","miR-7-5p":1.2,"miR-3934-5p":-0.1,"miR-137-3p":0.1,"miR-129-5p":0,"miR-1276":0.4,"miR-105-5p":-0.2},
{"i":61,"risk":0.150,"group":"High","time":22.6,"status":"Alive","miR-7-5p":1.3,"miR-3934-5p":0.3,"miR-137-3p":0,"miR-129-5p":-0.1,"miR-1276":0.2,"miR-105-5p":-0.3},
{"i":62,"risk":0.178,"group":"High","time":37.8,"status":"Alive","miR-7-5p":1.2,"miR-3934-5p":0.2,"miR-137-3p":-0.1,"miR-129-5p":0.2,"miR-1276":-0.2,"miR-105-5p":0.3},
{"i":63,"risk":0.178,"group":"High","time":40.9,"status":"Alive","miR-7-5p":1.3,"miR-3934-5p":-0.2,"miR-137-3p":0.2,"miR-129-5p":0,"miR-1276":0.5,"miR-105-5p":-0.2},
{"i":64,"risk":0.178,"group":"High","time":37.2,"status":"Alive","miR-7-5p":1.1,"miR-3934-5p":0.4,"miR-137-3p":0,"miR-129-5p":0.3,"miR-1276":0.3,"miR-105-5p":-0.3},
{"i":65,"risk":0.183,"group":"High","time":3.8,"status":"Death","miR-7-5p":1.4,"miR-3934-5p":0.8,"miR-137-3p":-0.1,"miR-129-5p":0.2,"miR-1276":0.6,"miR-105-5p":0.5},
{"i":66,"risk":0.240,"group":"High","time":23.7,"status":"Death","miR-7-5p":1.5,"miR-3934-5p":1.0,"miR-137-3p":0.1,"miR-129-5p":0,"miR-1276":0.5,"miR-105-5p":2.0},
{"i":67,"risk":0.240,"group":"High","time":27.7,"status":"Alive","miR-7-5p":1.8,"miR-3934-5p":0.8,"miR-137-3p":0,"miR-129-5p":-0.1,"miR-1276":4.5,"miR-105-5p":0.2},
{"i":68,"risk":0.390,"group":"High","time":20.5,"status":"Death","miR-7-5p":2.0,"miR-3934-5p":1.0,"miR-137-3p":0.3,"miR-129-5p":0.3,"miR-1276":0.2,"miR-105-5p":0},
{"i":69,"risk":0.430,"group":"High","time":10.0,"status":"Death","miR-7-5p":1.2,"miR-3934-5p":0.6,"miR-137-3p":0.2,"miR-129-5p":0.2,"miR-1276":1.2,"miR-105-5p":1.0},
{"i":70,"risk":0.460,"group":"High","time":22.9,"status":"Alive","miR-7-5p":0.2,"miR-3934-5p":0.2,"miR-137-3p":0,"miR-129-5p":8.0,"miR-1276":1.5,"miR-105-5p":-0.2},
{"i":71,"risk":0.470,"group":"High","time":24.6,"status":"Death","miR-7-5p":2.2,"miR-3934-5p":0.8,"miR-137-3p":0.5,"miR-129-5p":0.4,"miR-1276":1.3,"miR-105-5p":-0.3},
{"i":72,"risk":0.480,"group":"High","time":21.7,"status":"Alive","miR-7-5p":2.0,"miR-3934-5p":0.9,"miR-137-3p":0.2,"miR-129-5p":0.2,"miR-1276":0.5,"miR-105-5p":-0.2},
{"i":73,"risk":0.480,"group":"High","time":24.0,"status":"Death"},
{"i":74,"risk":0.480,"group":"High","time":8.9,"status":"Death"},
{"i":75,"risk":0.490,"group":"High","time":17.7,"status":"Alive"},
{"i":76,"risk":0.690,"group":"High","time":21.4,"status":"Alive"},
{"i":77,"risk":0.970,"group":"High","time":25.8,"status":"Alive"},
{"i":78,"risk":0.970,"group":"High","time":27.4,"status":"Alive"},
{"i":79,"risk":1.740,"group":"High","time":6.0,"status":"Alive"}
]},
"hconcat":[
{"title":{"text":"A","offset":6,"dx":3},
 "spacing":0,"bounds":"flush",
 "resolve":{"scale":{"x":"independent","y":"independent","color":"independent"},"legend":{"color":"independent"}},
 "vconcat":[
  {"width":460,"height":149,
   "layer":[
    {"data":{"name":"A"},"mark":{"type":"circle","size":11,"opacity":1},
     "encoding":{
      "x":{"field":"i","type":"quantitative","scale":{"domain":[0.5,116.5],"nice":false,"zero":false},"axis":null},
      "y":{"field":"risk","type":"quantitative","scale":{"domain":[-0.0355,0.2277],"nice":false,"zero":false},"axis":{"title":"Six-miRNA Riskscore","values":[0,0.05,0.1,0.15,0.2],"tickCount":20,"format":".2f","labelFontSize":11,"titlePadding":9,"labelOverlap":false}},
      "color":{"field":"group","type":"nominal","scale":{"domain":["High","Low"],"range":["#e8221c","#3a9e3a"]},
       "legend":{"title":"Group","orient":"none","legendX":-8,"legendY":-9,"direction":"horizontal","titleOrient":"left","symbolType":"circle","symbolSize":80,"symbolOpacity":1,"columnPadding":6,"labelOffset":3,"titlePadding":6}}}},
    {"data":{"values":[{}]},"mark":{"type":"rule","color":"#a0a0a0","strokeWidth":1.5,"strokeDash":[10,6]},"encoding":{"x":{"datum":58.5},"y":{"datum":-0.0355},"y2":{"datum":0.21}}},
    {"data":{"values":[{}]},"mark":{"type":"rule","color":"#a0a0a0","strokeWidth":1.5,"strokeDash":[10,6]},"encoding":{"y":{"datum":-0.0355}}},
    {"data":{"values":[{}]},"mark":{"type":"rule","color":"#4d4d4d","strokeWidth":1.2},"encoding":{"x":{"datum":0.5},"x2":{"datum":116.5},"y":{"datum":0.21}}},
    {"data":{"values":[{}]},"mark":{"type":"rule","color":"#4d4d4d","strokeWidth":1.2},"encoding":{"x":{"datum":0.5},"y":{"datum":-0.0355},"y2":{"datum":0.21}}},
    {"data":{"values":[{}]},"mark":{"type":"rule","color":"#4d4d4d","strokeWidth":1.2},"encoding":{"x":{"datum":116.5},"y":{"datum":-0.0355},"y2":{"datum":0.21}}}
   ]},
  {"width":460,"height":146,
   "layer":[
    {"data":{"name":"A"},"mark":{"type":"circle","size":22,"opacity":1},
     "encoding":{
      "x":{"field":"i","type":"quantitative","scale":{"domain":[0.5,116.5],"nice":false,"zero":false},"axis":null},
      "y":{"field":"time","type":"quantitative","scale":{"domain":[-14.6,233],"nice":false,"zero":false},"axis":{"title":"Time(Months)","values":[0,50,100,150,200],"tickCount":20,"labelFontSize":9,"titlePadding":10,"labelOverlap":false}},
      "color":{"field":"status","type":"nominal","scale":{"domain":["Alive","Death"],"range":["#70c8d6","#58207a"]},
       "legend":{"title":"Event","orient":"none","legendX":132,"legendY":-158,"direction":"horizontal","titleOrient":"left","symbolType":"circle","symbolSize":80,"symbolOpacity":1,"columnPadding":6,"labelOffset":3,"titlePadding":6}}}},
    {"data":{"values":[{}]},"mark":{"type":"rule","color":"#a0a0a0","strokeWidth":1.5,"strokeDash":[10,6]},"encoding":{"x":{"datum":58.5}}},
    {"data":{"values":[{}]},"mark":{"type":"rule","color":"#a0a0a0","strokeWidth":1.5,"strokeDash":[10,6]},"encoding":{"y":{"datum":-14.6}}},
    {"data":{"values":[{}]},"mark":{"type":"rule","color":"#4d4d4d","strokeWidth":1.2},"encoding":{"x":{"datum":0.5}}},
    {"data":{"values":[{}]},"mark":{"type":"rule","color":"#4d4d4d","strokeWidth":1.2},"encoding":{"x":{"datum":116.5}}}
   ]},
  {"width":460,"height":144,
   "layer":[
    {"data":{"name":"A"},
     "transform":[{"fold":["miR-7-5p","miR-3934-5p","miR-137-3p","miR-129-5p","miR-1276","miR-105-5p"],"as":["mirna","expr"]},{"filter":"isValid(datum.expr)"}],
     "mark":{"type":"rect"},
     "encoding":{
      "x":{"field":"i","type":"quantitative","bin":{"step":1,"extent":[1,117]},"scale":{"domain":[1,117],"nice":false,"zero":false},
           "axis":{"title":"Patients with LSCC in TCGA  Cohort","labels":false,"ticks":false,"domain":true,"domainColor":"#4d4d4d","domainWidth":1.2,"titlePadding":8}},
      "y":{"field":"mirna","type":"nominal","sort":["miR-7-5p","miR-3934-5p","miR-137-3p","miR-129-5p","miR-1276","miR-105-5p"],"scale":{"paddingInner":0,"paddingOuter":0},"axis":{"title":"lncRNAs","labelFontSize":10.5}},
      "color":{"field":"expr","type":"quantitative","scale":{"domain":[9.05,0,-0.9],"range":["#e8221c","#ffffff","#dbe6d6"],"interpolate":"lab"},
       "legend":{"title":"Expression","orient":"none","legendX":284,"legendY":-307,"direction":"horizontal","titleOrient":"left","gradientLength":77,"gradientThickness":17,"values":[7.5,5,2.5,0],"format":".1f","labelOffset":-27,"labelFontSize":10,"titlePadding":6,"gradientStrokeWidth":0}}}},
    {"data":{"values":[{}]},"mark":{"type":"rule","color":"#a0a0a0","strokeWidth":1.5,"strokeDash":[10,6]},"encoding":{"x":{"datum":59}}},
    {"data":{"values":[{}]},"mark":{"type":"rule","color":"#4d4d4d","strokeWidth":1.2},"encoding":{"x":{"datum":1}}},
    {"data":{"values":[{}]},"mark":{"type":"rule","color":"#4d4d4d","strokeWidth":1.2},"encoding":{"x":{"datum":117}}}
   ]}
 ]},
{"title":{"text":"B","offset":-2},
 "spacing":0,"bounds":"flush",
 "resolve":{"scale":{"x":"independent","y":"independent","color":"independent"},"legend":{"color":"independent"}},
 "vconcat":[
  {"width":449,"height":140,
   "layer":[
    {"data":{"name":"B"},"mark":{"type":"circle","size":15,"opacity":1,"clip":true},
     "encoding":{
      "x":{"field":"i","type":"quantitative","scale":{"domain":[0.5,78.5],"nice":false,"zero":false},"axis":null},
      "y":{"field":"risk","type":"quantitative","scale":{"domain":[-0.5,1.85],"nice":false,"zero":false},"axis":{"title":"Six-miRNA Riskscore","values":[-0.5,0,0.5,1,1.5],"tickCount":20,"format":".1f","labelFontSize":11,"titlePadding":6,"labelOverlap":false}},
      "color":{"field":"group","type":"nominal","scale":{"domain":["High","Low"],"range":["#e8221c","#3a9e3a"]},
       "legend":{"title":"Group","orient":"none","legendX":-2,"legendY":-18,"direction":"horizontal","titleOrient":"left","symbolType":"circle","symbolSize":80,"symbolOpacity":1,"columnPadding":6,"labelOffset":3,"titlePadding":6}}}},
    {"data":{"values":[{}]},"mark":{"type":"rule","color":"#a0a0a0","strokeWidth":1.5,"strokeDash":[10,6]},"encoding":{"x":{"datum":40.5}}},
    {"data":{"values":[{}]},"mark":{"type":"rule","color":"#a0a0a0","strokeWidth":1.5,"strokeDash":[10,6]},"encoding":{"y":{"datum":-0.5}}},
    {"data":{"values":[{}]},"mark":{"type":"rule","color":"#4d4d4d","strokeWidth":1.2},"encoding":{"y":{"datum":1.85}}},
    {"data":{"values":[{}]},"mark":{"type":"rule","color":"#4d4d4d","strokeWidth":1.2},"encoding":{"x":{"datum":0.5}}}
   ]},
  {"width":449,"height":146,
   "layer":[
    {"data":{"name":"B"},"mark":{"type":"circle","size":26,"opacity":1,"clip":true},
     "encoding":{
      "x":{"field":"i","type":"quantitative","scale":{"domain":[0.5,78.5],"nice":false,"zero":false},"axis":null},
      "y":{"field":"time","type":"quantitative","scale":{"domain":[0.5,68.4],"nice":false,"zero":false},"axis":{"title":"Time(Months)","values":[20,40,60],"tickCount":20,"labelFontSize":9,"titlePadding":17,"labelOverlap":false}},
      "color":{"field":"status","type":"nominal","scale":{"domain":["Alive","Death"],"range":["#70c8d6","#58207a"]},
       "legend":{"title":"Event","orient":"none","legendX":134,"legendY":-158,"direction":"horizontal","titleOrient":"left","symbolType":"circle","symbolSize":80,"symbolOpacity":1,"columnPadding":6,"labelOffset":3,"titlePadding":6}}}},
    {"data":{"values":[{}]},"mark":{"type":"rule","color":"#a0a0a0","strokeWidth":1.5,"strokeDash":[10,6]},"encoding":{"x":{"datum":40.5}}},
    {"data":{"values":[{}]},"mark":{"type":"rule","color":"#a0a0a0","strokeWidth":1.5,"strokeDash":[10,6]},"encoding":{"y":{"datum":0.5}}},
    {"data":{"values":[{}]},"mark":{"type":"rule","color":"#4d4d4d","strokeWidth":1.2},"encoding":{"x":{"datum":0.5}}}
   ]},
  {"width":449,"height":155,
   "layer":[
    {"data":{"name":"B"},
     "transform":[{"fold":["miR-7-5p","miR-3934-5p","miR-137-3p","miR-129-5p","miR-1276","miR-105-5p"],"as":["mirna","expr"]},{"filter":"isValid(datum.expr)"}],
     "mark":{"type":"rect"},
     "encoding":{
      "x":{"field":"i","type":"quantitative","bin":{"step":1,"extent":[1,79]},"scale":{"domain":[1,79],"nice":false,"zero":false},
           "axis":{"title":"Patients with LSCC in Shanxi  Cohort","labels":false,"ticks":false,"domain":true,"domainColor":"#4d4d4d","domainWidth":1.2,"titlePadding":8,"titleX":218}},
      "y":{"field":"mirna","type":"nominal","sort":["miR-7-5p","miR-3934-5p","miR-137-3p","miR-129-5p","miR-1276","miR-105-5p"],"scale":{"paddingInner":0,"paddingOuter":0},"axis":{"title":"miRNAs","labelFontSize":10.5}},
      "color":{"field":"expr","type":"quantitative","scale":{"domain":[8.4,0,-1.2],"range":["#e8221c","#ffffff","#d6e3d1"],"interpolate":"lab"},
       "legend":{"title":"Expression","orient":"none","legendX":287,"legendY":-308,"direction":"horizontal","titleOrient":"left","gradientLength":70,"gradientThickness":17,"values":[8,6,4,2,0],"format":"d","labelOffset":-27,"labelFontSize":10,"titlePadding":6,"gradientStrokeWidth":0}}}},
    {"data":{"values":[{}]},"mark":{"type":"rule","color":"#a0a0a0","strokeWidth":1.5,"strokeDash":[10,6]},"encoding":{"x":{"datum":41}}},
    {"data":{"values":[{}]},"mark":{"type":"rule","color":"#4d4d4d","strokeWidth":1.2},"encoding":{"x":{"datum":1}}}
   ]}
 ]}
],
"spacing":15,
"resolve":{"scale":{"x":"independent","y":"independent","color":"independent"},"legend":{"color":"independent"}}
}
